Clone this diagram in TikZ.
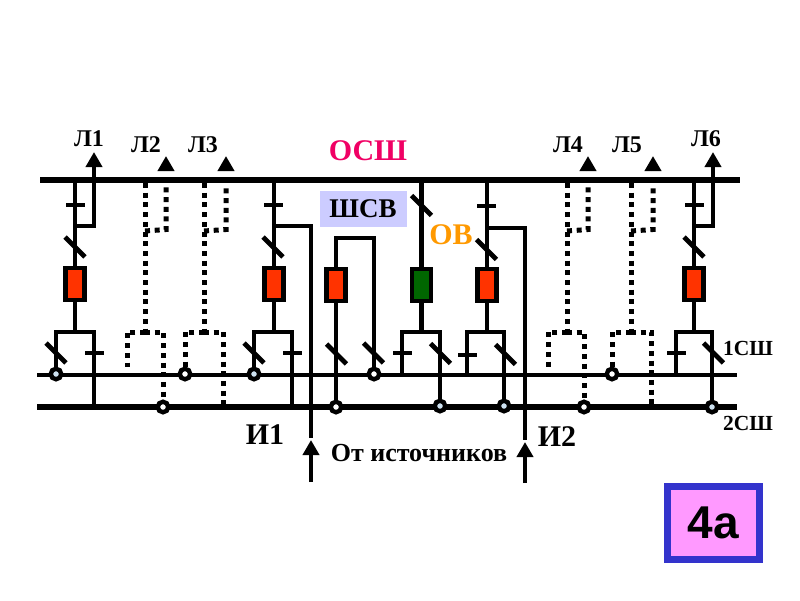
\documentclass[tikz,border=0pt]{standalone}
\usepackage{fontspec}
\setmainfont{Liberation Serif}
\setsansfont{Liberation Sans}
\usetikzlibrary{arrows.meta, positioning}
\definecolor{brkred}{RGB}{255,51,0}
\definecolor{brkgreen}{RGB}{0,102,0}
\definecolor{oshcolor}{RGB}{240,0,100}
\definecolor{ovcolor}{RGB}{255,153,0}
\definecolor{shsvcolor}{RGB}{204,204,255}
\definecolor{jncolor}{RGB}{205,225,240}
\definecolor{tagblue}{RGB}{51,51,204}
\definecolor{tagpink}{RGB}{255,153,255}

\begin{document}
\begin{tikzpicture}[
    x=1pt, y=-1pt,
    bus/.style={line width=5.5pt},
    wire/.style={line width=4.6pt},
    dotwire/.style={line width=5pt, dash pattern=on 5pt off 4.7pt},
    arrow/.style={wire, -{Triangle[length=15pt, width=16pt]}},
    brk/.style={draw, line width=4.4pt, fill=brkred, minimum width=19pt, minimum height=32pt, inner sep=0pt},
    tickbar/.style={fill=black, minimum width=19pt, minimum height=4.8pt, inner sep=0pt},
    diag/.style={fill=black, rotate=-45, minimum width=28pt, minimum height=4.8pt, inner sep=0pt},
    jn/.style={circle, draw, line width=4.4pt, fill=jncolor, minimum size=10.5pt, inner sep=0pt},
    lbl/.style={font=\bfseries\fontsize{24}{24}\selectfont, inner sep=0pt},
    big/.style={font=\bfseries\fontsize{30}{30}\selectfont, inner sep=0pt},
    bsl/.style={font=\bfseries\fontsize{21.5}{21.5}\selectfont, inner sep=0pt}
]
    \useasboundingbox (0,0) rectangle (800,600);

    % buses
    \coordinate (osl) at (40,180);
    \coordinate (osr) at (740,180);
    \coordinate (s1l) at (37,375);
    \coordinate (s1r) at (737,375);
    \coordinate (s2l) at (37,407);
    \coordinate (s2r) at (737,407);
    \draw[bus] (osl) -- (osr);
    \draw[wire] (s1l) -- (s1r);
    \draw[bus] (s2l) -- (s2r);

    % breakers
    \foreach \n/\x/\y in {1/75/284, 2/274/284, 3/336/285, 5/487/285, 6/694/284}
        \node[brk] (b\n) at (\x,\y) {};
    \node[brk, fill=brkgreen] (b4) at (421.5,285) {};

    % bus joints
    \foreach \n/\x/\y in {a/56/374, c/254/374, e/712/407, g/504/406, h/440/406}
        \node[jn] (j\n) at (\x,\y) {};
    \foreach \n/\x/\y in {b/185/374, d/163/407, f/336/407, i/374/374, k/584/407, l/612/374}
        \node[jn, fill=white] (j\n) at (\x,\y) {};

    % dotted feeders
    \coordinate (e2) at (127,367);
    \coordinate (e4) at (548,367);
    \coordinate (r3) at (223,407);
    \coordinate (r5) at (651,407);
    \foreach \n/\x/\a/\le/\re in {2/145/166/e2/jd, 3/204/226/jb/r3, 4/567/588/e4/jk, 5/631/653/jl/r5}{
        \coordinate (top\n) at (\x,183);
        \coordinate (mid\n) at (\x,332);
        \coordinate (knee\n) at (\x,231);
        \coordinate (kn\n) at (\a,229.5);
        \coordinate (up\n) at (\a,187);
        \coordinate (hs\n) at (\a,171);
        \coordinate (ht\n) at (\a,156);
        \draw[dotwire] (top\n) -- (mid\n);
        \draw[dotwire] (mid\n) -| (\le);
        \draw[dotwire] (mid\n) -| (\re);
        \draw[dotwire] (knee\n) -- (kn\n) -- (up\n);
        \draw[arrow] (hs\n) -- (ht\n);
    }

    % L1
    \coordinate (t1) at (75,332);
    \coordinate (r1) at (94,407);
    \coordinate (k1) at (75,226);
    \coordinate (a1) at (94,152);
    \draw[wire] (b1) -- (b1 |- osl);
    \draw[wire] (b1) -- (t1);
    \draw[wire] (ja) |- (t1) -| (r1);
    \draw[arrow] (k1) -| (a1);

    % I1
    \coordinate (t2) at (274,332);
    \coordinate (r2) at (292,407);
    \coordinate (k2) at (274,226);
    \coordinate (f1) at (311,438);
    \coordinate (s1) at (311,482);
    \coordinate (a2) at (311,440);
    \draw[wire] (b2) -- (b2 |- osl);
    \draw[wire] (b2) -- (t2);
    \draw[wire] (jc) |- (t2) -| (r2);
    \draw[wire] (k2) -| (f1);
    \draw[arrow] (s1) -- (a2);

    % SHSV
    \coordinate (k3) at (374,238);
    \draw[wire] (jf) -- (b3);
    \draw[wire] (b3) |- (k3) -- (ji);

    % OV
    \coordinate (t4) at (421.5,332);
    \coordinate (l4) at (402,375);
    \draw[wire] (b4) -- (b4 |- osl);
    \draw[wire] (b4) -- (t4);
    \draw[wire] (l4) |- (t4) -| (jh);

    % I2
    \coordinate (t5) at (487,332);
    \coordinate (l5) at (467,375);
    \coordinate (k5) at (487,228);
    \coordinate (f5) at (525,440);
    \coordinate (s5) at (525,483);
    \coordinate (a5) at (525,442);
    \draw[wire] (b5) -- (b5 |- osl);
    \draw[wire] (b5) -- (t5);
    \draw[wire] (l5) |- (t5) -| (jg);
    \draw[wire] (k5) -| (f5);
    \draw[arrow] (s5) -- (a5);

    % L6
    \coordinate (t6) at (694,332);
    \coordinate (l6) at (676,375);
    \coordinate (k6) at (694,226);
    \coordinate (a6) at (713,152);
    \draw[wire] (b6) -- (b6 |- osl);
    \draw[wire] (b6) -- (t6);
    \draw[wire] (l6) |- (t6) -| (je);
    \draw[arrow] (k6) -| (a6);

    % disconnectors
    \foreach \n/\x/\y in {1/75/205, 2/94/353, 3/273.5/205, 4/292.5/353, 5/402.5/353, 6/486.5/206, 7/467.5/355, 8/694.5/205, 9/676/353}
        \node[tickbar] (tk\n) at (\x,\y) {};
    \foreach \n/\x/\y in {1/75/247, 2/56/353, 3/273/247, 4/254/353, 5/336.5/354, 6/373.5/353, 7/421.5/205.5, 8/440.5/353.5, 9/486.5/249.5, 10/505.5/354.5, 11/694/247, 12/713.5/353}
        \node[diag] (dg\n) at (\x,\y) {};

    % labels
    \node[lbl] (l1txt) at (89,139) {Л1};
    \node[lbl] (l2txt) at (146,145) {Л2};
    \node[lbl] (l3txt) at (203,145) {Л3};
    \node[lbl] (l4txt) at (568,145) {Л4};
    \node[lbl] (l5txt) at (627,145) {Л5};
    \node[lbl] (l6txt) at (706,139) {Л6};
    \node[big, text=oshcolor] (osh) at (368,151) {ОСШ};
    \node[fill=shsvcolor, minimum width=87pt, minimum height=36pt, inner sep=0pt,
        font=\bfseries\fontsize{27}{27}\selectfont] (shsv) at (363,209) {ШСВ};
    \node[big, text=ovcolor] (ov) at (451,235) {ОВ};
    \node[big] (i1) at (265,435) {И1};
    \node[big] (i2) at (557,437) {И2};
    \node[font=\bfseries\fontsize{26}{26}\selectfont, inner sep=0pt] (src) at (419,453) {От источников};
    \node[bsl] (s1txt) at (748,348) {1СШ};
    \node[bsl] (s2txt) at (748,423) {2СШ};
    \node[draw=tagblue, fill=tagpink, line width=7pt, minimum width=92pt, minimum height=73pt,
        font=\sffamily\bfseries\fontsize{46}{46}\selectfont] (tag) at (713,523) {4а};
\end{tikzpicture}
\end{document}
